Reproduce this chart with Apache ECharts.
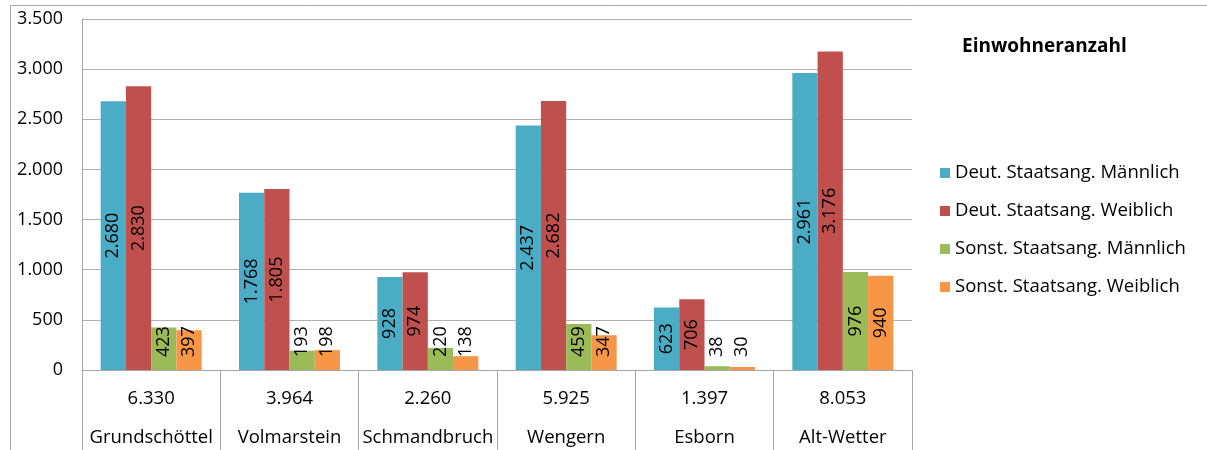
<!DOCTYPE html>
<html><head><meta charset="utf-8">
<script src="https://cdn.jsdelivr.net/npm/echarts@6/dist/echarts.min.js"></script>
<style>html,body{margin:0;padding:0;background:#fff}#c{width:1207px;height:450px}</style>
</head><body><div id="c"></div>
<script>
var categories = ['Grundschöttel', 'Volmarstein', 'Schmandbruch', 'Wengern', 'Esborn', 'Alt-Wetter'];
var totals = [6330, 3964, 2260, 5925, 1397, 8053];
var deutMaennlich = [2680, 1768, 928, 2437, 623, 2961];
var deutWeiblich = [2830, 1805, 974, 2682, 706, 3176];
var sonstMaennlich = [423, 193, 220, 459, 38, 976];
var sonstWeiblich = [397, 198, 138, 347, 30, 940];
var seriesNames = ['Deut. Staatsang. Männlich', 'Deut. Staatsang. Weiblich', 'Sonst. Staatsang. Männlich', 'Sonst. Staatsang. Weiblich'];
var yTicks = [0, 500, 1000, 1500, 2000, 2500, 3000, 3500];

function fmt(v) { return String(v).replace(/\B(?=(\d{3})+(?!\d))/g, '.'); }
var FONT = 'Open Sans';
var colors = ['#4BACC6', '#C0504D', '#9BBB59', '#F79646'];
var SMALL = 580;

function mkData(arr) {
  return arr.map(function (v) {
    if (v < SMALL) {
      return { value: v, label: { position: 'insideBottom', distance: 13, align: 'left', verticalAlign: 'middle' } };
    }
    return v;
  });
}
var all = [deutMaennlich, deutWeiblich, sonstMaennlich, sonstWeiblich];
var series = all.map(function (arr, i) {
  return {
    name: seriesNames[i], type: 'bar', data: mkData(arr),
    barGap: '0%', barCategoryGap: '27%',
    itemStyle: { color: colors[i] },
    label: {
      show: true, position: 'inside', rotate: 90, color: '#000',
      fontFamily: FONT, fontSize: 18,
      formatter: function (p) { return fmt(p.value); }
    }
  };
});

var chart = echarts.init(document.getElementById('c'));
chart.setOption({
  animation: false,
  backgroundColor: '#fff',
  title: { text: 'Einwohneranzahl', left: 957, top: 32, textStyle: { fontFamily: FONT, fontSize: 19, fontWeight: 'bold', color: '#000' } },
  legend: {
    orient: 'vertical', left: 935, top: 158, itemWidth: 10, itemHeight: 10, itemGap: 18,
    icon: 'rect', data: seriesNames,
    textStyle: { fontFamily: FONT, fontSize: 18.5, lineHeight: 20, color: '#000' }
  },
  grid: { left: 82, right: 295, top: 19, bottom: 80 },
  xAxis: {
    type: 'category', data: categories,
    axisLine: { show: true, lineStyle: { color: '#a6a6a6' } },
    axisTick: { show: true, length: 80, lineStyle: { color: '#a6a6a6' } },
    axisLabel: {
      margin: 9, interval: 0,
      formatter: function (v, i) { return '{t|' + fmt(totals[i]) + '}\n{n|' + v + '}'; },
      rich: {
        t: { fontFamily: FONT, fontSize: 18.5, color: '#000', lineHeight: 39 },
        n: { fontFamily: FONT, fontSize: 18.5, color: '#000', lineHeight: 39 }
      }
    }
  },
  yAxis: {
    type: 'value', min: yTicks[0], max: yTicks[yTicks.length - 1], interval: 500,
    axisLine: { show: true, lineStyle: { color: '#a6a6a6' } },
    axisTick: { show: false },
    splitLine: { lineStyle: { color: '#b0b0b0' } },
    axisLabel: { fontFamily: FONT, fontSize: 18, color: '#000', margin: 19, formatter: function (v) { return fmt(v); } }
  },
  graphic: [{ type: 'rect', shape: { x: 10.5, y: 5.5, width: 1300, height: 500 }, style: { fill: 'none', stroke: '#a6a6a6', lineWidth: 1 }, silent: true }],
  series: series
});
</script></body></html>
